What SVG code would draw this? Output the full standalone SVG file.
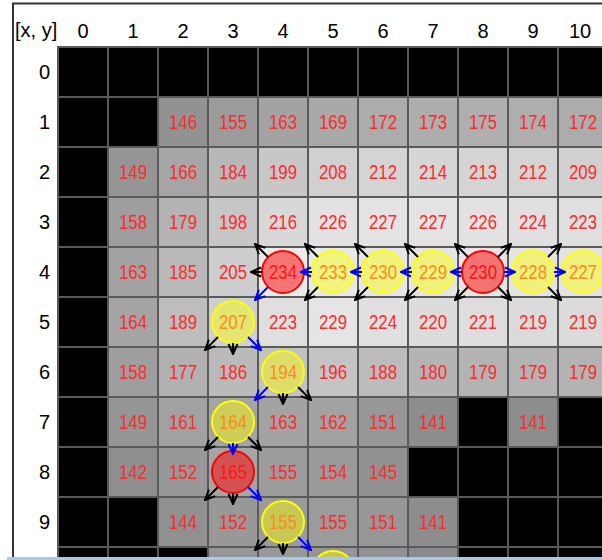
<svg xmlns="http://www.w3.org/2000/svg" width="602" height="560" viewBox="0 0 602 560">
<style>
.c{stroke:#5a5a5a;stroke-width:2}
.b{fill:#000}
.v{font-family:"Liberation Sans",Arial,sans-serif;font-size:20px;fill:#ff2a2a;text-anchor:middle}
.h{font-family:"Liberation Sans",Arial,sans-serif;font-size:20px;fill:#000}
.hc{text-anchor:middle}
.hr{text-anchor:end}
.yc{fill:#ffff00;fill-opacity:0.45;stroke:#ffff00;stroke-width:2}
.rc{fill:#ff0000;fill-opacity:0.5;stroke:#ff0000;stroke-width:2}
.k{stroke:#000;stroke-width:2;fill:none;marker-end:url(#ak)}
.u{stroke:#0000ff;stroke-width:2;fill:none;marker-end:url(#au)}
</style>
<defs>
<marker id="ak" viewBox="0 0 12 12" refX="11" refY="6" markerWidth="12" markerHeight="12" markerUnits="userSpaceOnUse" orient="auto"><path d="M1,1.5 L11,6 L1,10.5" fill="none" stroke="#000" stroke-width="2"/></marker>
<marker id="au" viewBox="0 0 12 12" refX="11" refY="6" markerWidth="12" markerHeight="12" markerUnits="userSpaceOnUse" orient="auto"><path d="M1,1.5 L11,6 L1,10.5" fill="none" stroke="#0000ff" stroke-width="2"/></marker>
</defs>
<rect width="602" height="560" fill="#fff"/>
<g id="headers">
<text class="h" x="15" y="37">[x, y]</text>
<text class="h hc" x="83" y="38">0</text><text class="h hc" x="133" y="38">1</text><text class="h hc" x="183" y="38">2</text><text class="h hc" x="233" y="38">3</text><text class="h hc" x="283" y="38">4</text><text class="h hc" x="333" y="38">5</text><text class="h hc" x="383" y="38">6</text><text class="h hc" x="433" y="38">7</text><text class="h hc" x="483" y="38">8</text><text class="h hc" x="533" y="38">9</text><text class="h hc" x="580" y="38">10</text>
<text class="h hr" x="50" y="79">0</text><text class="h hr" x="50" y="129">1</text><text class="h hr" x="50" y="179">2</text><text class="h hr" x="50" y="229">3</text><text class="h hr" x="50" y="279">4</text><text class="h hr" x="50" y="329">5</text><text class="h hr" x="50" y="379">6</text><text class="h hr" x="50" y="429">7</text><text class="h hr" x="50" y="479">8</text><text class="h hr" x="50" y="529">9</text>
</g>
<g id="row0">
<rect class="c b" x="58" y="47" width="50" height="50"/><rect class="c b" x="108" y="47" width="50" height="50"/><rect class="c b" x="158" y="47" width="50" height="50"/><rect class="c b" x="208" y="47" width="50" height="50"/><rect class="c b" x="258" y="47" width="50" height="50"/><rect class="c b" x="308" y="47" width="50" height="50"/><rect class="c b" x="358" y="47" width="50" height="50"/><rect class="c b" x="408" y="47" width="50" height="50"/><rect class="c b" x="458" y="47" width="50" height="50"/><rect class="c b" x="508" y="47" width="50" height="50"/><rect class="c b" x="558" y="47" width="50" height="50"/>
</g>
<g id="row1">
<rect class="c b" x="58" y="97" width="50" height="50"/><rect class="c b" x="108" y="97" width="50" height="50"/>
<rect class="c" fill="rgb(146,146,146)" x="158" y="97" width="50" height="50"/><text class="v" x="183" y="129" textLength="28" lengthAdjust="spacingAndGlyphs">146</text>
<rect class="c" fill="rgb(155,155,155)" x="208" y="97" width="50" height="50"/><text class="v" x="233" y="129" textLength="28" lengthAdjust="spacingAndGlyphs">155</text>
<rect class="c" fill="rgb(163,163,163)" x="258" y="97" width="50" height="50"/><text class="v" x="283" y="129" textLength="28" lengthAdjust="spacingAndGlyphs">163</text>
<rect class="c" fill="rgb(169,169,169)" x="308" y="97" width="50" height="50"/><text class="v" x="333" y="129" textLength="28" lengthAdjust="spacingAndGlyphs">169</text>
<rect class="c" fill="rgb(172,172,172)" x="358" y="97" width="50" height="50"/><text class="v" x="383" y="129" textLength="28" lengthAdjust="spacingAndGlyphs">172</text>
<rect class="c" fill="rgb(173,173,173)" x="408" y="97" width="50" height="50"/><text class="v" x="433" y="129" textLength="28" lengthAdjust="spacingAndGlyphs">173</text>
<rect class="c" fill="rgb(175,175,175)" x="458" y="97" width="50" height="50"/><text class="v" x="483" y="129" textLength="28" lengthAdjust="spacingAndGlyphs">175</text>
<rect class="c" fill="rgb(174,174,174)" x="508" y="97" width="50" height="50"/><text class="v" x="533" y="129" textLength="28" lengthAdjust="spacingAndGlyphs">174</text>
<rect class="c" fill="rgb(172,172,172)" x="558" y="97" width="50" height="50"/><text class="v" x="583" y="129" textLength="28" lengthAdjust="spacingAndGlyphs">172</text>
</g>
<g id="row2">
<rect class="c b" x="58" y="147" width="50" height="50"/>
<rect class="c" fill="rgb(149,149,149)" x="108" y="147" width="50" height="50"/><text class="v" x="133" y="179" textLength="28" lengthAdjust="spacingAndGlyphs">149</text>
<rect class="c" fill="rgb(166,166,166)" x="158" y="147" width="50" height="50"/><text class="v" x="183" y="179" textLength="28" lengthAdjust="spacingAndGlyphs">166</text>
<rect class="c" fill="rgb(184,184,184)" x="208" y="147" width="50" height="50"/><text class="v" x="233" y="179" textLength="28" lengthAdjust="spacingAndGlyphs">184</text>
<rect class="c" fill="rgb(199,199,199)" x="258" y="147" width="50" height="50"/><text class="v" x="283" y="179" textLength="28" lengthAdjust="spacingAndGlyphs">199</text>
<rect class="c" fill="rgb(208,208,208)" x="308" y="147" width="50" height="50"/><text class="v" x="333" y="179" textLength="28" lengthAdjust="spacingAndGlyphs">208</text>
<rect class="c" fill="rgb(212,212,212)" x="358" y="147" width="50" height="50"/><text class="v" x="383" y="179" textLength="28" lengthAdjust="spacingAndGlyphs">212</text>
<rect class="c" fill="rgb(214,214,214)" x="408" y="147" width="50" height="50"/><text class="v" x="433" y="179" textLength="28" lengthAdjust="spacingAndGlyphs">214</text>
<rect class="c" fill="rgb(213,213,213)" x="458" y="147" width="50" height="50"/><text class="v" x="483" y="179" textLength="28" lengthAdjust="spacingAndGlyphs">213</text>
<rect class="c" fill="rgb(212,212,212)" x="508" y="147" width="50" height="50"/><text class="v" x="533" y="179" textLength="28" lengthAdjust="spacingAndGlyphs">212</text>
<rect class="c" fill="rgb(209,209,209)" x="558" y="147" width="50" height="50"/><text class="v" x="583" y="179" textLength="28" lengthAdjust="spacingAndGlyphs">209</text>
</g>
<g id="row3">
<rect class="c b" x="58" y="197" width="50" height="50"/>
<rect class="c" fill="rgb(158,158,158)" x="108" y="197" width="50" height="50"/><text class="v" x="133" y="229" textLength="28" lengthAdjust="spacingAndGlyphs">158</text>
<rect class="c" fill="rgb(179,179,179)" x="158" y="197" width="50" height="50"/><text class="v" x="183" y="229" textLength="28" lengthAdjust="spacingAndGlyphs">179</text>
<rect class="c" fill="rgb(198,198,198)" x="208" y="197" width="50" height="50"/><text class="v" x="233" y="229" textLength="28" lengthAdjust="spacingAndGlyphs">198</text>
<rect class="c" fill="rgb(216,216,216)" x="258" y="197" width="50" height="50"/><text class="v" x="283" y="229" textLength="28" lengthAdjust="spacingAndGlyphs">216</text>
<rect class="c" fill="rgb(226,226,226)" x="308" y="197" width="50" height="50"/><text class="v" x="333" y="229" textLength="28" lengthAdjust="spacingAndGlyphs">226</text>
<rect class="c" fill="rgb(227,227,227)" x="358" y="197" width="50" height="50"/><text class="v" x="383" y="229" textLength="28" lengthAdjust="spacingAndGlyphs">227</text>
<rect class="c" fill="rgb(227,227,227)" x="408" y="197" width="50" height="50"/><text class="v" x="433" y="229" textLength="28" lengthAdjust="spacingAndGlyphs">227</text>
<rect class="c" fill="rgb(226,226,226)" x="458" y="197" width="50" height="50"/><text class="v" x="483" y="229" textLength="28" lengthAdjust="spacingAndGlyphs">226</text>
<rect class="c" fill="rgb(224,224,224)" x="508" y="197" width="50" height="50"/><text class="v" x="533" y="229" textLength="28" lengthAdjust="spacingAndGlyphs">224</text>
<rect class="c" fill="rgb(223,223,223)" x="558" y="197" width="50" height="50"/><text class="v" x="583" y="229" textLength="28" lengthAdjust="spacingAndGlyphs">223</text>
</g>
<g id="row4">
<rect class="c b" x="58" y="247" width="50" height="50"/>
<rect class="c" fill="rgb(163,163,163)" x="108" y="247" width="50" height="50"/><text class="v" x="133" y="279" textLength="28" lengthAdjust="spacingAndGlyphs">163</text>
<rect class="c" fill="rgb(185,185,185)" x="158" y="247" width="50" height="50"/><text class="v" x="183" y="279" textLength="28" lengthAdjust="spacingAndGlyphs">185</text>
<rect class="c" fill="rgb(205,205,205)" x="208" y="247" width="50" height="50"/><text class="v" x="233" y="279" textLength="28" lengthAdjust="spacingAndGlyphs">205</text>
<rect class="c" fill="rgb(234,234,234)" x="258" y="247" width="50" height="50"/><text class="v" x="283" y="279" textLength="28" lengthAdjust="spacingAndGlyphs">234</text>
<rect class="c" fill="rgb(233,233,233)" x="308" y="247" width="50" height="50"/><text class="v" x="333" y="279" textLength="28" lengthAdjust="spacingAndGlyphs">233</text>
<rect class="c" fill="rgb(230,230,230)" x="358" y="247" width="50" height="50"/><text class="v" x="383" y="279" textLength="28" lengthAdjust="spacingAndGlyphs">230</text>
<rect class="c" fill="rgb(229,229,229)" x="408" y="247" width="50" height="50"/><text class="v" x="433" y="279" textLength="28" lengthAdjust="spacingAndGlyphs">229</text>
<rect class="c" fill="rgb(230,230,230)" x="458" y="247" width="50" height="50"/><text class="v" x="483" y="279" textLength="28" lengthAdjust="spacingAndGlyphs">230</text>
<rect class="c" fill="rgb(228,228,228)" x="508" y="247" width="50" height="50"/><text class="v" x="533" y="279" textLength="28" lengthAdjust="spacingAndGlyphs">228</text>
<rect class="c" fill="rgb(227,227,227)" x="558" y="247" width="50" height="50"/><text class="v" x="583" y="279" textLength="28" lengthAdjust="spacingAndGlyphs">227</text>
</g>
<g id="row5">
<rect class="c b" x="58" y="297" width="50" height="50"/>
<rect class="c" fill="rgb(164,164,164)" x="108" y="297" width="50" height="50"/><text class="v" x="133" y="329" textLength="28" lengthAdjust="spacingAndGlyphs">164</text>
<rect class="c" fill="rgb(189,189,189)" x="158" y="297" width="50" height="50"/><text class="v" x="183" y="329" textLength="28" lengthAdjust="spacingAndGlyphs">189</text>
<rect class="c" fill="rgb(207,207,207)" x="208" y="297" width="50" height="50"/><text class="v" x="233" y="329" textLength="28" lengthAdjust="spacingAndGlyphs">207</text>
<rect class="c" fill="rgb(223,223,223)" x="258" y="297" width="50" height="50"/><text class="v" x="283" y="329" textLength="28" lengthAdjust="spacingAndGlyphs">223</text>
<rect class="c" fill="rgb(229,229,229)" x="308" y="297" width="50" height="50"/><text class="v" x="333" y="329" textLength="28" lengthAdjust="spacingAndGlyphs">229</text>
<rect class="c" fill="rgb(224,224,224)" x="358" y="297" width="50" height="50"/><text class="v" x="383" y="329" textLength="28" lengthAdjust="spacingAndGlyphs">224</text>
<rect class="c" fill="rgb(220,220,220)" x="408" y="297" width="50" height="50"/><text class="v" x="433" y="329" textLength="28" lengthAdjust="spacingAndGlyphs">220</text>
<rect class="c" fill="rgb(221,221,221)" x="458" y="297" width="50" height="50"/><text class="v" x="483" y="329" textLength="28" lengthAdjust="spacingAndGlyphs">221</text>
<rect class="c" fill="rgb(219,219,219)" x="508" y="297" width="50" height="50"/><text class="v" x="533" y="329" textLength="28" lengthAdjust="spacingAndGlyphs">219</text>
<rect class="c" fill="rgb(219,219,219)" x="558" y="297" width="50" height="50"/><text class="v" x="583" y="329" textLength="28" lengthAdjust="spacingAndGlyphs">219</text>
</g>
<g id="row6">
<rect class="c b" x="58" y="347" width="50" height="50"/>
<rect class="c" fill="rgb(158,158,158)" x="108" y="347" width="50" height="50"/><text class="v" x="133" y="379" textLength="28" lengthAdjust="spacingAndGlyphs">158</text>
<rect class="c" fill="rgb(177,177,177)" x="158" y="347" width="50" height="50"/><text class="v" x="183" y="379" textLength="28" lengthAdjust="spacingAndGlyphs">177</text>
<rect class="c" fill="rgb(186,186,186)" x="208" y="347" width="50" height="50"/><text class="v" x="233" y="379" textLength="28" lengthAdjust="spacingAndGlyphs">186</text>
<rect class="c" fill="rgb(194,194,194)" x="258" y="347" width="50" height="50"/><text class="v" x="283" y="379" textLength="28" lengthAdjust="spacingAndGlyphs">194</text>
<rect class="c" fill="rgb(196,196,196)" x="308" y="347" width="50" height="50"/><text class="v" x="333" y="379" textLength="28" lengthAdjust="spacingAndGlyphs">196</text>
<rect class="c" fill="rgb(188,188,188)" x="358" y="347" width="50" height="50"/><text class="v" x="383" y="379" textLength="28" lengthAdjust="spacingAndGlyphs">188</text>
<rect class="c" fill="rgb(180,180,180)" x="408" y="347" width="50" height="50"/><text class="v" x="433" y="379" textLength="28" lengthAdjust="spacingAndGlyphs">180</text>
<rect class="c" fill="rgb(179,179,179)" x="458" y="347" width="50" height="50"/><text class="v" x="483" y="379" textLength="28" lengthAdjust="spacingAndGlyphs">179</text>
<rect class="c" fill="rgb(179,179,179)" x="508" y="347" width="50" height="50"/><text class="v" x="533" y="379" textLength="28" lengthAdjust="spacingAndGlyphs">179</text>
<rect class="c" fill="rgb(179,179,179)" x="558" y="347" width="50" height="50"/><text class="v" x="583" y="379" textLength="28" lengthAdjust="spacingAndGlyphs">179</text>
</g>
<g id="row7">
<rect class="c b" x="58" y="397" width="50" height="50"/>
<rect class="c" fill="rgb(149,149,149)" x="108" y="397" width="50" height="50"/><text class="v" x="133" y="429" textLength="28" lengthAdjust="spacingAndGlyphs">149</text>
<rect class="c" fill="rgb(161,161,161)" x="158" y="397" width="50" height="50"/><text class="v" x="183" y="429" textLength="28" lengthAdjust="spacingAndGlyphs">161</text>
<rect class="c" fill="rgb(164,164,164)" x="208" y="397" width="50" height="50"/><text class="v" x="233" y="429" textLength="28" lengthAdjust="spacingAndGlyphs">164</text>
<rect class="c" fill="rgb(163,163,163)" x="258" y="397" width="50" height="50"/><text class="v" x="283" y="429" textLength="28" lengthAdjust="spacingAndGlyphs">163</text>
<rect class="c" fill="rgb(162,162,162)" x="308" y="397" width="50" height="50"/><text class="v" x="333" y="429" textLength="28" lengthAdjust="spacingAndGlyphs">162</text>
<rect class="c" fill="rgb(151,151,151)" x="358" y="397" width="50" height="50"/><text class="v" x="383" y="429" textLength="28" lengthAdjust="spacingAndGlyphs">151</text>
<rect class="c" fill="rgb(141,141,141)" x="408" y="397" width="50" height="50"/><text class="v" x="433" y="429" textLength="28" lengthAdjust="spacingAndGlyphs">141</text>
<rect class="c b" x="458" y="397" width="50" height="50"/>
<rect class="c" fill="rgb(141,141,141)" x="508" y="397" width="50" height="50"/><text class="v" x="533" y="429" textLength="28" lengthAdjust="spacingAndGlyphs">141</text>
<rect class="c b" x="558" y="397" width="50" height="50"/>
</g>
<g id="row8">
<rect class="c b" x="58" y="447" width="50" height="50"/>
<rect class="c" fill="rgb(142,142,142)" x="108" y="447" width="50" height="50"/><text class="v" x="133" y="479" textLength="28" lengthAdjust="spacingAndGlyphs">142</text>
<rect class="c" fill="rgb(152,152,152)" x="158" y="447" width="50" height="50"/><text class="v" x="183" y="479" textLength="28" lengthAdjust="spacingAndGlyphs">152</text>
<rect class="c" fill="rgb(165,165,165)" x="208" y="447" width="50" height="50"/><text class="v" x="233" y="479" textLength="28" lengthAdjust="spacingAndGlyphs">165</text>
<rect class="c" fill="rgb(155,155,155)" x="258" y="447" width="50" height="50"/><text class="v" x="283" y="479" textLength="28" lengthAdjust="spacingAndGlyphs">155</text>
<rect class="c" fill="rgb(154,154,154)" x="308" y="447" width="50" height="50"/><text class="v" x="333" y="479" textLength="28" lengthAdjust="spacingAndGlyphs">154</text>
<rect class="c" fill="rgb(145,145,145)" x="358" y="447" width="50" height="50"/><text class="v" x="383" y="479" textLength="28" lengthAdjust="spacingAndGlyphs">145</text>
<rect class="c b" x="408" y="447" width="50" height="50"/><rect class="c b" x="458" y="447" width="50" height="50"/><rect class="c b" x="508" y="447" width="50" height="50"/><rect class="c b" x="558" y="447" width="50" height="50"/>
</g>
<g id="row9">
<rect class="c b" x="58" y="497" width="50" height="50"/><rect class="c b" x="108" y="497" width="50" height="50"/>
<rect class="c" fill="rgb(144,144,144)" x="158" y="497" width="50" height="50"/><text class="v" x="183" y="529" textLength="28" lengthAdjust="spacingAndGlyphs">144</text>
<rect class="c" fill="rgb(152,152,152)" x="208" y="497" width="50" height="50"/><text class="v" x="233" y="529" textLength="28" lengthAdjust="spacingAndGlyphs">152</text>
<rect class="c" fill="rgb(155,155,155)" x="258" y="497" width="50" height="50"/><text class="v" x="283" y="529" textLength="28" lengthAdjust="spacingAndGlyphs">155</text>
<rect class="c" fill="rgb(155,155,155)" x="308" y="497" width="50" height="50"/><text class="v" x="333" y="529" textLength="28" lengthAdjust="spacingAndGlyphs">155</text>
<rect class="c" fill="rgb(151,151,151)" x="358" y="497" width="50" height="50"/><text class="v" x="383" y="529" textLength="28" lengthAdjust="spacingAndGlyphs">151</text>
<rect class="c" fill="rgb(141,141,141)" x="408" y="497" width="50" height="50"/><text class="v" x="433" y="529" textLength="28" lengthAdjust="spacingAndGlyphs">141</text>
<rect class="c b" x="458" y="497" width="50" height="50"/><rect class="c b" x="508" y="497" width="50" height="50"/><rect class="c b" x="558" y="497" width="50" height="50"/>
</g>
<g id="row10">
<rect class="c b" x="58" y="547" width="50" height="50"/><rect class="c b" x="108" y="547" width="50" height="50"/><rect class="c b" x="158" y="547" width="50" height="50"/>
<rect class="c" fill="rgb(150,150,150)" x="208" y="547" width="50" height="50"/>
<rect class="c" fill="rgb(152,152,152)" x="258" y="547" width="50" height="50"/>
<rect class="c" fill="rgb(150,150,150)" x="308" y="547" width="50" height="50"/>
<rect class="c" fill="rgb(145,145,145)" x="358" y="547" width="50" height="50"/>
<rect class="c" fill="rgb(138,138,138)" x="408" y="547" width="50" height="50"/>
<rect class="c b" x="458" y="547" width="50" height="50"/><rect class="c b" x="508" y="547" width="50" height="50"/><rect class="c b" x="558" y="547" width="50" height="50"/>
</g>
<g id="p-4-4"><circle class="rc" cx="283" cy="272" r="21"/></g>
<g id="p-5-4"><circle class="yc" cx="333" cy="272" r="21"/></g>
<g id="p-6-4"><circle class="yc" cx="383" cy="272" r="21"/></g>
<g id="p-7-4"><circle class="yc" cx="433" cy="272" r="21"/></g>
<g id="p-8-4"><circle class="rc" cx="483" cy="272" r="21"/></g>
<g id="p-9-4"><circle class="yc" cx="533" cy="272" r="21"/></g>
<g id="p-10-4"><circle class="yc" cx="583" cy="272" r="21"/></g>
<g id="p-3-5"><circle class="yc" cx="233" cy="322" r="21"/></g>
<g id="p-4-6"><circle class="yc" cx="283" cy="372" r="21"/></g>
<g id="p-3-7"><circle class="yc" cx="233" cy="422" r="21"/></g>
<g id="p-3-8"><circle class="rc" cx="233" cy="472" r="21"/></g>
<g id="p-4-9"><circle class="yc" cx="283" cy="522" r="21"/></g>
<g id="p-5-10"><circle class="yc" cx="333" cy="572" r="21"/></g>
<g id="connectors">
<path class="k" d="M268,257 L255,244"/><path class="k" d="M262,272 L251,272"/><path class="u" d="M268,287 L255,300"/>
<path class="k" d="M318,257 L305,244"/><path class="u" d="M312,272 L301,272"/><path class="k" d="M318,287 L305,300"/>
<path class="k" d="M368,257 L355,244"/><path class="u" d="M362,272 L351,272"/><path class="k" d="M368,287 L355,300"/>
<path class="k" d="M418,257 L405,244"/><path class="u" d="M412,272 L401,272"/><path class="k" d="M418,287 L405,300"/>
<path class="k" d="M468,257 L455,244"/><path class="u" d="M462,272 L451,272"/><path class="k" d="M468,287 L455,300"/>
<path class="k" d="M498,257 L511,244"/><path class="u" d="M504,272 L515,272"/><path class="k" d="M498,287 L511,300"/>
<path class="k" d="M548,257 L561,244"/><path class="u" d="M554,272 L565,272"/><path class="k" d="M548,287 L561,300"/>
<path class="k" d="M218,337 L205,350"/><path class="k" d="M233,343 L233,354"/><path class="u" d="M248,337 L261,350"/>
<path class="u" d="M268,387 L255,400"/><path class="k" d="M283,393 L283,404"/><path class="k" d="M298,387 L311,400"/>
<path class="k" d="M218,437 L205,450"/><path class="u" d="M233,443 L233,454"/><path class="k" d="M248,437 L261,450"/>
<path class="k" d="M218,487 L205,500"/><path class="k" d="M233,493 L233,504"/><path class="u" d="M248,487 L261,500"/>
<path class="k" d="M268,537 L255,550"/><path class="k" d="M283,543 L283,554"/><path class="u" d="M298,537 L311,550"/>
</g>
<g id="frame">
<line x1="12" y1="3.5" x2="602" y2="3.5" stroke="#333" stroke-width="2"/>
<line x1="13" y1="3" x2="13" y2="557" stroke="#333" stroke-width="2"/>
<rect x="7" y="557" width="595" height="3" fill="#a8c8e8"/>
</g>
</svg>
